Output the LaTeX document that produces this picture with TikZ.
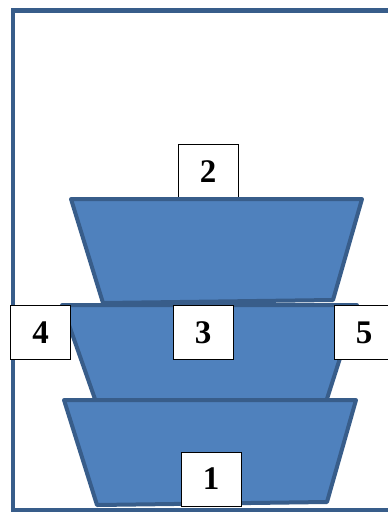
\documentclass[tikz,border=0pt]{standalone}
\usepackage{fontspec}
\setmainfont{Liberation Serif}
\usepackage{tikz}
\definecolor{trayfill}{HTML}{4F81BD}
\definecolor{trayline}{HTML}{385D8A}

\begin{document}
\begin{tikzpicture}[
    x=1pt, y=-1pt,
    frame/.style={draw=trayline, line width=4.5pt},
    tray/.style={fill=trayfill, draw=trayline, line width=4pt, line join=round},
    tag/.style={draw, fill=white, thin, inner sep=0pt, minimum width=60pt, minimum height=54pt, font=\fontsize{33}{38}\selectfont\bfseries}
]
    \useasboundingbox (0,0) rectangle (388,512);
    \clip (0,0) rectangle (388,512);

    % outer frame
    \draw[frame] (13,10.5) rectangle (420,510);

    % tag behind the upper tray
    \node[tag] (t2) at (208,171.5) {2};

    % trays, middle first
    \draw[tray] (62,305) -- (357,305) -- (326,402) -- (96,402) -- cycle;
    \draw[tray] (64,400) -- (356,400) -- (327,502) -- (97,505) -- cycle;
    \draw[tray] (71,199) -- (362,199) -- (333,300) -- (103,303) -- cycle;

    % tags in front
    \node[tag] (t4) at (40.5,332.5) {4};
    \node[tag] (t3) at (203,332.5) {3};
    \node[tag] (t5) at (364,332.5) {5};
    \node[tag] (t1) at (211,479) {1};

\end{tikzpicture}
\end{document}
